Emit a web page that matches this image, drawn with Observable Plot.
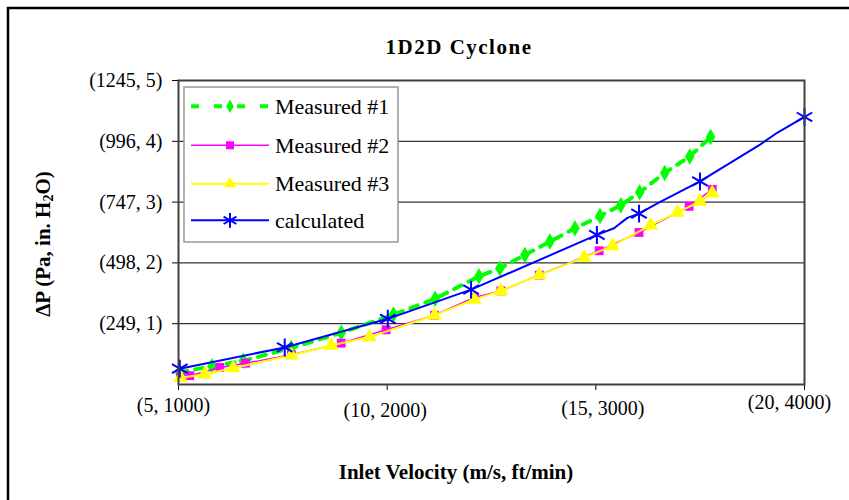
<!DOCTYPE html>
<html><head><meta charset="utf-8">
<script src="https://cdn.jsdelivr.net/npm/d3@7"></script>
<script src="https://cdn.jsdelivr.net/npm/@observablehq/plot@0.6"></script>
<style>
body{margin:0;background:#fff;}
#chart svg, #chart svg text{font-family:"Liberation Serif","Times New Roman",serif;}
</style>
</head><body><div id="chart"></div>
<script>
const chartTitle = "1D2D Cyclone";
const xTitle = "Inlet Velocity (m/s, ft/min)";
const xTicks = [1000, 2000, 3000, 4000];
const xTickLabels = ["(5, 1000)", "(10, 2000)", "(15, 3000)", "(20, 4000)"];
const yTicks = [1, 2, 3, 4, 5];
const yTickLabels = ["(249, 1)", "(498, 2)", "(747, 3)", "(996, 4)", "(1245, 5)"];
const seriesNames = ["Measured #1", "Measured #2", "Measured #3", "calculated"];

const m1V = [1005, 1160, 1310, 1540, 1780, 2030, 2230, 2440, 2540, 2660, 2780, 2900, 3020, 3120, 3210, 3330, 3450, 3550];
const m1P = [0.20, 0.30, 0.39, 0.60, 0.85, 1.15, 1.41, 1.78, 1.91, 2.13, 2.35, 2.57, 2.77, 2.95, 3.16, 3.48, 3.75, 4.07];

const m2V = [1010, 1054, 1198, 1321, 1541, 1780, 1995, 2227, 2418, 2545, 2729, 3016, 3207, 3447, 3558];
const m2P = [0.12, 0.145, 0.28, 0.35, 0.49, 0.68, 0.90, 1.14, 1.43, 1.54, 1.80, 2.20, 2.50, 2.93, 3.21];

const m3V = [1010, 1126, 1262, 1541, 1732, 1915, 2227, 2418, 2545, 2729, 2944, 3080, 3263, 3391, 3499, 3558];
const m3P = [0.11, 0.17, 0.27, 0.48, 0.64, 0.78, 1.14, 1.40, 1.54, 1.80, 2.09, 2.28, 2.62, 2.83, 3.01, 3.15];

const calcV = [1006, 1509, 2003, 2402, 3005, 3087, 3151, 3207, 3295, 3499, 3789, 3869, 4000];
const calcP = [0.26, 0.61, 1.08, 1.56, 2.46, 2.57, 2.74, 2.81, 2.98, 3.34, 3.95, 4.14, 4.40];
const calcMarked = [1, 1, 1, 1, 1, 0, 0, 1, 0, 1, 0, 0, 1];

const rows = (V, P) => V.map((v, i) => ({v, p: P[i]}));
const m1 = rows(m1V, m1P), m2 = rows(m2V, m2P), m3 = rows(m3V, m3P);
const calc = rows(calcV, calcP);
const calcPts = calc.filter((d, i) => calcMarked[i]);

const GREEN = "#00ff00", MAG = "#ff00ff", YEL = "#ffff00", BLUE = "#0000ff";
const FONT = '"Liberation Serif","Times New Roman",serif';

// per-label nudges of the x tick labels (as drawn in the original)
const xNudge = [[-5, 27], [-2, 32.5], [7, 30], [-15, 24]];

const chart = Plot.plot({
  width: 849, height: 500,
  marginLeft: 178, marginRight: 45, marginTop: 80, marginBottom: 116,
  x: {domain: [1000, 4000]},
  y: {domain: [0, 5]},
  style: {fontFamily: FONT, fontSize: "20px", background: "white", color: "black"},
  marks: [
    Plot.gridY([1, 2, 3, 4], {stroke: "#000", strokeOpacity: 1, strokeWidth: 1}),
    Plot.axisY(yTicks, {tickSize: 6, tickPadding: 10, tickFormat: d => yTickLabels[yTicks.indexOf(d)], fontSize: 20, label: null, strokeWidth: 1}),
    Plot.axisX(xTicks, {tickSize: 6, tickFormat: () => "", label: null}),
    ...xTicks.map((t, i) => Plot.text([t], {x: d => d, frameAnchor: "bottom", dx: xNudge[i][0], dy: xNudge[i][1], text: () => xTickLabels[i], fontSize: 20, fill: "#000"})),
    Plot.line(m1, {x: "v", y: "p", stroke: GREEN, strokeWidth: 4, strokeDasharray: "8,8"}),
    Plot.dot(m1, {x: "v", y: "p", symbol: "diamond", r: 5, fill: GREEN}),
    Plot.line(m2, {x: "v", y: "p", stroke: MAG, strokeWidth: 1.5}),
    Plot.dot(m2, {x: "v", y: "p", symbol: "square", r: 5, fill: MAG}),
    Plot.line(m3, {x: "v", y: "p", stroke: YEL, strokeWidth: 2}),
    Plot.dot(m3, {x: "v", y: "p", symbol: "triangle", r: 5.5, fill: YEL}),
    Plot.line(calc, {x: "v", y: "p", stroke: BLUE, strokeWidth: 2}),
    Plot.dot(calcPts, {x: "v", y: "p", symbol: "asterisk", r: 8.5, stroke: BLUE, strokeWidth: 2}),
    Plot.frame({stroke: "#404040", strokeWidth: 2})
  ]
});

const svg = d3.select(chart);
svg.insert("rect", ":first-child").attr("x", 8).attr("y", 8).attr("width", 900).attr("height", 600)
  .attr("fill", "none").attr("stroke", "#000").attr("stroke-width", 2.5);

const txt = (sel) => sel.attr("font-family", FONT).attr("fill", "#000");
txt(svg.append("text")).attr("x", 459).attr("y", 47).attr("text-anchor", "middle").attr("dominant-baseline", "central")
  .attr("font-weight", "bold").attr("font-size", 21).attr("letter-spacing", 1.5).text(chartTitle);
txt(svg.append("text")).attr("x", 456).attr("y", 472).attr("text-anchor", "middle").attr("dominant-baseline", "central")
  .attr("font-weight", "bold").attr("font-size", 21).text(xTitle);
const yl = txt(svg.append("text")).attr("transform", "translate(43,244) rotate(-90)").attr("text-anchor", "middle")
  .attr("dominant-baseline", "central").attr("font-weight", "bold").attr("font-size", 21);
yl.append("tspan").text("ΔP (Pa, in. H");
yl.append("tspan").attr("font-size", 14).attr("dy", 5).text("2");
yl.append("tspan").attr("dy", -5).text("O)");

// legend
const lg = svg.append("g");
lg.append("rect").attr("x", 184).attr("y", 87).attr("width", 214).attr("height", 155)
  .attr("fill", "white").attr("stroke", "#999").attr("stroke-width", 1.5);
const legendStyles = [
  {stroke: GREEN, sw: 4, dash: "8,15", sym: d3.symbolDiamond, r: 4, fill: GREEN},
  {stroke: MAG, sw: 1.5, dash: null, sym: d3.symbolSquare, r: 4.5, fill: MAG},
  {stroke: YEL, sw: 2, dash: null, sym: d3.symbolTriangle, r: 4.5, fill: YEL},
  {stroke: BLUE, sw: 2, dash: null, sym: d3.symbolAsterisk, r: 7, fill: "none", sstroke: BLUE}
];
seriesNames.forEach((name, i) => {
  const cy = [106.3, 145.3, 183.7, 220.3][i];
  const s = legendStyles[i];
  lg.append("line").attr("x1", 191).attr("x2", 269).attr("y1", cy).attr("y2", cy)
    .attr("stroke", s.stroke).attr("stroke-width", s.sw).attr("stroke-dasharray", s.dash);
  lg.append("path").attr("transform", `translate(230,${cy})`)
    .attr("d", d3.symbol(s.sym, Math.PI * s.r * s.r)())
    .attr("fill", s.fill).attr("stroke", s.sstroke || "none").attr("stroke-width", 2);
  txt(lg.append("text")).attr("x", 275).attr("y", cy).attr("text-anchor", "start").attr("dominant-baseline", "central")
    .attr("font-size", 22).text(name);
});

document.getElementById("chart").appendChild(chart);
</script>
</body></html>
